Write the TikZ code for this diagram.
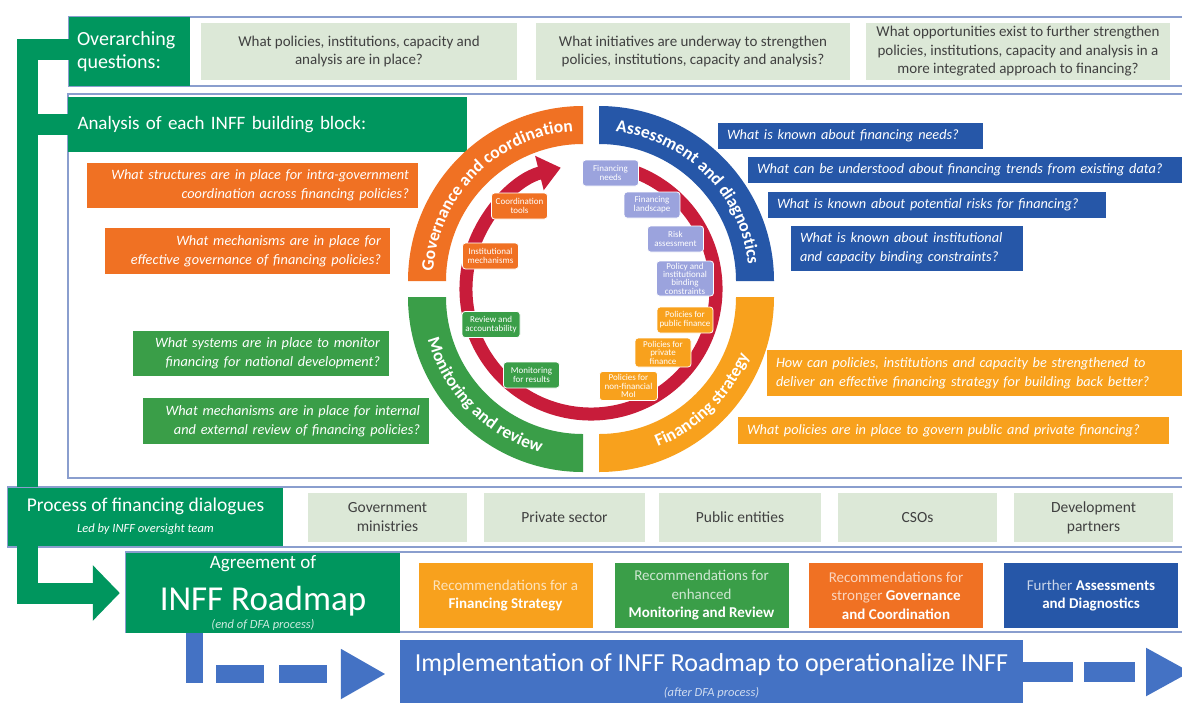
\documentclass[tikz,border=0pt]{standalone}
\usepackage{fontspec}
\setmainfont{Carlito}
\usetikzlibrary{arrows.meta, decorations.text}

\definecolor{inffgreen}{RGB}{0,150,94}
\definecolor{mongreen}{RGB}{58,158,72}
\definecolor{govorange}{RGB}{240,113,35}
\definecolor{assblue}{RGB}{38,87,168}
\definecolor{finyellow}{RGB}{248,161,29}
\definecolor{needlilac}{RGB}{155,163,221}
\definecolor{cyclered}{RGB}{200,28,58}
\definecolor{palegreen}{RGB}{220,232,215}
\definecolor{implblue}{RGB}{68,114,196}
\definecolor{rulec}{RGB}{138,158,206}
\definecolor{greytext}{RGB}{64,64,64}

\newcommand{\arclabel}{\color{white}\bfseries\fontsize{17.5}{18}\selectfont}

\tikzset{
    every node/.style={inner sep=0pt}, % box sizes are set by hand
    wh/.style 2 args={minimum width=#1pt, minimum height=#2pt}, % width and height in pixels of the sketch
    rowrule/.style={draw=rulec, line width=2.2pt}, % blue rules round each band
    headbox/.style={fill=inffgreen, text=white}, % dark green title boxes
    palebox/.style={fill=palegreen, text=greytext, align=center, font=\fontsize{15}{18.5}\selectfont}, % grey-green boxes
    askbox/.style n args={3}{wh={#1}{#2}, text width=#1pt-18pt, align=#3, text=white, font=\fontsize{14.3}{19}\selectfont\itshape}, % coloured questions
    recbox/.style={wh={174}{65}, align=center, text=white, font=\fontsize{15}{18.5}\selectfont}, % roadmap recommendations
    minibox/.style={wh={56}{26}, rounded corners=3pt, draw=white, line width=0.8pt, text=white, align=center, font=\fontsize{9}{9}\selectfont}, % boxes inside the cycle
    gbar/.style={draw=inffgreen, line width=21pt, line join=miter}, % green flow bar
    bbar/.style={draw=implblue, line width=18pt}, % blue flow bar
}

\begin{document}
\begin{tikzpicture}[x=1pt, y=-1pt]
\fill[white] (0,0) rectangle (1182,702);
\useasboundingbox (0,0) rectangle (1182,702);

% bands
\draw[rowrule] (69,17) rectangle (1190,86);
\draw[rowrule] (68,94) rectangle (1190,478);
\draw[rowrule] (8,487) rectangle (1190,547);
\draw[rowrule] (126,552) rectangle (1190,632);

% overarching questions
\node[headbox, wh={121}{69}, text width=105pt, align=left, font=\fontsize{20}{23}\selectfont] (ovq) at (129.5,51.5) {Overarching\\questions:};
\node[palebox, wh={316}{57}] (oq1) at (359,51.5) {What policies, institutions, capacity and\\analysis are in place?};
\node[palebox, wh={314}{57}] (oq2) at (693,51.5) {What initiatives are underway to strengthen\\policies, institutions, capacity and analysis?};
\node[palebox, wh={304}{57}] (oq3) at (1018,51.5) {What opportunities exist to further strengthen\\policies, institutions, capacity and analysis in a\\more integrated approach to financing?};

% building blocks
\node[headbox, wh={399}{55}, text width=380pt, align=left, font=\fontsize{19}{22}\selectfont] (ana) at (267.5,124.5) {Analysis of each INFF building block:};

\node[askbox={331}{45}{right}, fill=govorange] (gq1) at (252.5,185.5) {What structures are in place for intra-government\\coordination across financing policies?};
\node[askbox={285}{46}{right}, fill=govorange] (gq2) at (247.5,251) {What mechanisms are in place for\\effective governance of financing policies?};
\node[askbox={256}{45}{right}, fill=mongreen] (mq1) at (261,353.5) {What systems are in place to monitor\\financing for national development?};
\node[askbox={286}{46}{right}, fill=mongreen] (mq2) at (286,421) {What mechanisms are in place for internal\\and external review of financing policies?};

\node[askbox={265}{26}{left}, fill=assblue] (aq1) at (850.5,136) {What is known about financing needs?};
\node[askbox={434}{26}{left}, fill=assblue] (aq2) at (965,170) {\mbox{What can be understood about financing trends from existing data?}};
\node[askbox={338}{26}{left}, fill=assblue] (aq3) at (937,205) {What is known about potential risks for financing?};
\node[askbox={232}{45}{left}, fill=assblue] (aq4) at (907,248.5) {What is known about institutional\\and capacity binding constraints?};
\node[askbox={415}{46}{left}, fill=finyellow] (fq1) at (974.5,373) {\mbox{How can policies, institutions and capacity be strengthened to}\\\mbox{deliver an effective financing strategy for building back better?}};
\node[askbox={431}{27}{left}, fill=finyellow] (fq2) at (953.5,430.5) {\mbox{What policies are in place to govern public and private financing?}};

% the cycle
\begin{scope}[shift={(591,289)}, y=1pt]
  \fill[govorange] (-8,8) ++(90:175) arc[start angle=90, end angle=180, radius=175] -- ++(38,0) arc[start angle=180, end angle=90, radius=137] -- cycle;
  \fill[assblue] (8,8) ++(0:175) arc[start angle=0, end angle=90, radius=175] -- ++(0,-38) arc[start angle=90, end angle=0, radius=137] -- cycle;
  \fill[mongreen] (-8,-8) ++(180:175) arc[start angle=180, end angle=270, radius=175] -- ++(0,38) arc[start angle=270, end angle=180, radius=137] -- cycle;
  \fill[finyellow] (8,-8) ++(270:175) arc[start angle=270, end angle=360, radius=175] -- ++(-38,0) arc[start angle=360, end angle=270, radius=137] -- cycle;
  \path[decorate, decoration={text along path, text align=center, text={|\arclabel|Governance and coordination}}] (-8,8) ++(180:150) arc[start angle=180, end angle=90, radius=150];
  \path[decorate, decoration={text along path, text align=center, text={|\arclabel|Assessment and diagnostics}}] (8,8) ++(90:150) arc[start angle=90, end angle=0, radius=150];
  \path[decorate, decoration={text along path, text align=center, text={|\arclabel|Monitoring and review}}] (-8,-8) ++(180:161) arc[start angle=180, end angle=270, radius=161];
  \path[decorate, decoration={text along path, text align=center, text={|\arclabel|Financing strategy}}] (8,-8) ++(270:161) arc[start angle=270, end angle=360, radius=161];
  \draw[cyclered, line width=13pt, -{Triangle[width=34pt, length=22pt]}] (75:125) arc[start angle=75, end angle=-256, radius=125];
\end{scope}

\node[minibox, fill=needlilac] (fneeds) at (610.5,173) {Financing\\needs};
\node[minibox, fill=needlilac] (fland) at (652,205) {Financing\\landscape};
\node[minibox, fill=needlilac] (risk) at (675.5,239) {Risk\\assessment};
\node[minibox, wh={57}{35}, fill=needlilac, font=\fontsize{9}{8.3}\selectfont] (pibc) at (685,278.5) {Policy and\\institutional\\binding\\constraints};
\node[minibox, fill=finyellow] (ppub) at (685,320) {Policies for\\public finance};
\node[minibox, wh={56}{29}, fill=finyellow, font=\fontsize{9}{8.5}\selectfont] (ppriv) at (663,352.5) {Policies for\\private\\finance};
\node[minibox, wh={58}{29}, fill=finyellow, font=\fontsize{9}{8.5}\selectfont] (pnon) at (628.5,386) {Policies for\\non-financial\\MoI};
\node[minibox, fill=mongreen] (mres) at (531.5,375) {Monitoring\\for results};
\node[minibox, wh={58}{26}, fill=mongreen] (rev) at (491,324.5) {Review and\\accountability};
\node[minibox, fill=govorange] (imech) at (490.5,256) {Institutional\\mechanisms};
\node[minibox, fill=govorange] (ctools) at (519.5,206) {Coordination\\tools};

% financing dialogues
\node[headbox, wh={275}{58}, align=center, font=\fontsize{19.5}{21}\selectfont] (proc) at (145.5,516.5) {Process of financing dialogues\\{\fontsize{12.5}{14}\selectfont\itshape Led by INFF oversight team}};
\node[palebox, wh={159}{49}, font=\fontsize{15.5}{19}\selectfont] (gov) at (387.5,517.5) {Government\\ministries};
\node[palebox, wh={161}{49}, font=\fontsize{15.5}{19}\selectfont] (priv) at (564.5,517.5) {Private sector};
\node[palebox, wh={162}{49}, font=\fontsize{15.5}{19}\selectfont] (pub) at (740,517.5) {Public entities};
\node[palebox, wh={159}{49}, font=\fontsize{15.5}{19}\selectfont] (cso) at (917.5,517.5) {CSOs};
\node[palebox, wh={159}{49}, font=\fontsize{15.5}{19}\selectfont] (dev) at (1093.5,517.5) {Development\\partners};

% roadmap
\node[headbox, wh={274}{80}, align=center, font=\fontsize{19}{20}\selectfont] (road) at (263,593) {Agreement of\\[13pt]{\fontsize{35}{35}\selectfont INFF Roadmap}\\[-2pt]{\fontsize{12.5}{14}\selectfont\itshape\color{white!80!inffgreen}(end of DFA process)}};
\node[recbox, fill=finyellow] (rfs) at (505.5,595.5) {{\color{white!70!finyellow}Recommendations for a}\\\textbf{Financing Strategy}};
\node[recbox, fill=mongreen] (rmr) at (701.5,595.5) {{\color{white!75!mongreen}Recommendations for}\\{\color{white!75!mongreen}enhanced}\\\textbf{Monitoring and Review}};
\node[recbox, fill=govorange] (rgc) at (896,595.5) {{\color{white!70!govorange}Recommendations for}\\{\color{white!70!govorange}stronger} \textbf{Governance}\\\textbf{and Coordination}};
\node[recbox, fill=assblue] (rad) at (1091,595.5) {{\color{white!75!assblue}Further} \textbf{Assessments}\\\textbf{and Diagnostics}};

\node[fill=implblue, wh={623}{72}, text=white, align=center, font=\fontsize{26}{25}\selectfont] (impl) at (711.5,676) {Implementation of INFF Roadmap to operationalize INFF\\{\fontsize{12.5}{14}\selectfont\itshape\color{white!75!implblue}(after DFA process)}};

% green flow
\coordinate (bartop) at (27.5,49.5);
\draw[gbar] (ovq.west |- bartop) -- (bartop) -- (bartop |- proc.north);
\draw[gbar] (bartop |- ana.west) -- (ana.west);
\draw[gbar, -{Triangle[width=54pt, length=27pt]}, shorten >=6pt] (bartop |- proc.south) |- (road.west);

% blue flow
\coordinate (bl) at (194.5,683);
\draw[bbar, line width=17pt] (road.south -| bl) -- (bl);
\coordinate (bd) at (203,674);
\draw[bbar, dash pattern=on 0pt off 13pt on 48pt off 15pt on 48pt off 30pt, -{Triangle[width=47pt, length=45pt]}, shorten >=14pt] (bd) -- (bd -| impl.west);
\coordinate (rend) at (1191,672);
\draw[bbar, line width=20pt, dash pattern=on 50pt off 11pt on 51pt off 30pt, -{Triangle[width=45pt, length=45pt]}] (impl.east |- rend) -- (rend);
\end{tikzpicture}
\end{document}
